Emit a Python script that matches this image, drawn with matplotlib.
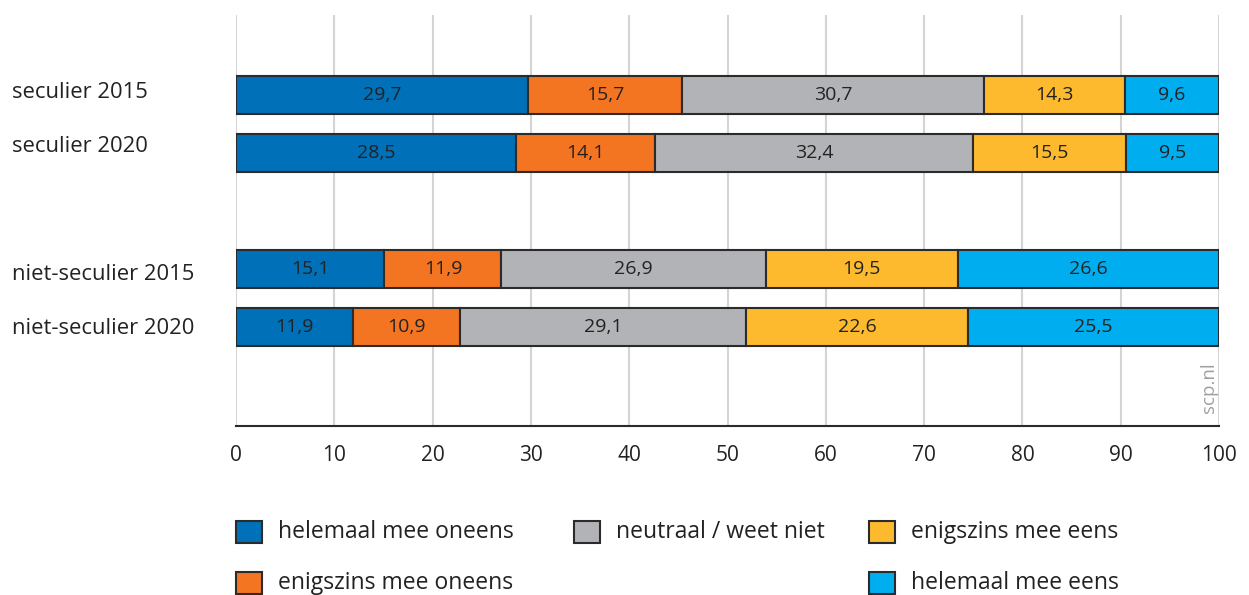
import matplotlib
matplotlib.use("Agg")
import matplotlib.pyplot as plt
from matplotlib.patches import Rectangle

plt.rcParams['font.family'] = ['Open Sans', 'DejaVu Sans']

categories = ["seculier 2015", "seculier 2020", "niet-seculier 2015", "niet-seculier 2020"]
series_names = ["helemaal mee oneens", "enigszins mee oneens", "neutraal / weet niet",
                "enigszins mee eens", "helemaal mee eens"]
helemaal_oneens = [29.7, 28.5, 15.1, 11.9]
enigszins_oneens = [15.7, 14.1, 11.9, 10.9]
neutraal = [30.7, 32.4, 26.9, 29.1]
enigszins_eens = [14.3, 15.5, 19.5, 22.6]
helemaal_eens = [9.6, 9.5, 26.6, 25.5]
x_ticks = [0, 10, 20, 30, 40, 50, 60, 70, 80, 90, 100]

series = [helemaal_oneens, enigszins_oneens, neutraal, enigszins_eens, helemaal_eens]
colors = ["#0070b8", "#f47521", "#b2b3b6", "#fdba2f", "#00adef"]
ypos = [0, 1, 3, 4]

W, H = 1249, 595
fig = plt.figure(figsize=(W / 100, H / 100), dpi=100)
ax = fig.add_axes([236 / W, 1 - 426 / H, (1219 - 236) / W, (426 - 15) / H])

left = [0.0] * len(categories)
for vals, col in zip(series, colors):
    bars = ax.barh(ypos, vals, left=left, height=0.655, color=col,
                   edgecolor="#2b2b2b", linewidth=1.5, zorder=3)
    for b, v, l in zip(bars, vals, left):
        ax.text(l + v / 2, b.get_y() + b.get_height() / 2,
                f"{v:.1f}".replace(".", ","), ha="center", va="center",
                fontsize=14, color="#222222", zorder=4)
    left = [a + b for a, b in zip(left, vals)]

ax.set_xlim(0, 100)
ax.set_ylim(5.71, -1.38)
ax.set_xticks(x_ticks)
ax.set_xticklabels([str(t) for t in x_ticks], fontsize=15, color="#222222")
ax.set_yticks([])
ax.tick_params(axis="x", length=0, pad=14)
ax.grid(axis="x", color="#d4d4d4", linewidth=1.5, zorder=0)
for s in ["top", "right", "left"]:
    ax.spines[s].set_visible(False)
ax.spines["bottom"].set_color("#2b2b2b")
ax.spines["bottom"].set_linewidth(1.5)
ax.spines["bottom"].set_zorder(5)

label_y = [93, 146, 275, 328]
for cat, yy in zip(categories, label_y):
    fig.text(12 / W, 1 - yy / H, cat, ha="left", va="center", fontsize=15.8, color="#222222")

ax.text(99, 5.05, "scp.nl", rotation=90, ha="center", va="center",
        fontsize=13.5, color="#a0a0a0", zorder=4)

# legend
legend_items = [
    (0, 236, 532), (1, 236, 583), (2, 574, 532), (3, 869, 532), (4, 869, 583)
]
for idx, px, py in legend_items:
    fig.patches.append(Rectangle((px / W, 1 - (py + 11) / H), 26 / W, 22 / H,
                                 transform=fig.transFigure, facecolor=colors[idx],
                                 edgecolor="#2b2b2b", linewidth=1.5))
    fig.text((px + 42) / W, 1 - py / H, series_names[idx], ha="left", va="center",
             fontsize=16.5, color="#222222")

fig.savefig("out.png", dpi=100)
